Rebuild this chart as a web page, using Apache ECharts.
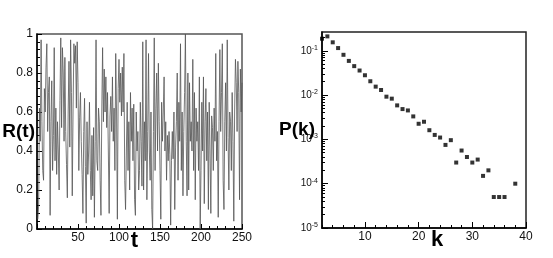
<!DOCTYPE html>
<html><head><meta charset="utf-8">
<script src="https://cdn.jsdelivr.net/npm/echarts@6/dist/echarts.min.js"></script>
<style>html,body{margin:0;padding:0;background:#fff}#c{width:553px;height:258px}</style>
</head><body><div id="c"></div>
<script>
// Left panel: R(t) time series, t = 1..250
const rValues = [
0.05,0.12,0.62,0.45,0.97,0.55,0.30,0.25,0.72,0.60,
0.83,0.95,0.50,0.70,0.78,0.07,0.55,0.76,0.30,0.48,
0.93,0.35,0.62,0.28,0.55,0.40,0.20,0.66,0.98,0.52,
0.93,0.80,0.45,0.88,0.50,0.33,0.16,0.60,0.86,0.42,
0.97,0.70,0.17,0.62,0.95,0.85,0.94,0.62,0.96,0.75,
0.30,0.57,0.70,0.45,0.28,0.08,0.50,0.67,0.32,0.03,
0.55,0.28,0.40,0.65,0.30,0.15,0.48,0.17,0.52,0.06,
0.45,0.97,0.35,0.30,0.62,0.55,0.25,0.07,0.60,0.93,
0.55,0.82,0.60,0.78,0.52,0.70,0.40,0.08,0.58,0.68,
0.50,0.78,0.45,0.62,0.30,0.90,0.60,0.05,0.72,0.87,
0.65,0.80,0.58,0.83,0.60,0.90,0.25,0.10,0.40,0.65,
0.30,0.55,0.20,0.70,0.45,0.62,0.35,0.64,0.15,0.07,
0.60,0.40,0.50,0.20,0.30,0.65,0.45,0.22,0.96,0.20,
0.55,0.35,0.97,0.15,0.50,0.90,0.40,0.25,0.60,0.10,
0.00,0.50,0.98,0.30,0.62,0.80,0.40,0.85,0.55,0.30,
0.05,0.65,0.45,0.60,0.78,0.40,0.55,0.25,0.48,0.35,
0.50,0.38,0.02,0.35,0.50,0.36,0.60,0.10,0.42,0.55,
0.80,0.25,0.65,0.45,0.95,0.30,0.60,0.17,0.50,0.70,
1.00,0.45,0.17,0.80,0.20,0.75,0.45,0.55,0.40,0.87,
0.30,0.70,0.15,0.62,0.45,0.55,0.30,0.78,0.00,0.30,
0.65,0.40,0.78,0.13,0.55,0.72,0.35,0.60,0.10,0.65,
0.40,0.08,0.58,0.52,0.30,0.62,0.45,0.90,0.35,0.50,
0.06,0.55,0.92,0.50,0.70,0.95,0.25,0.10,0.55,0.75,
0.40,0.97,0.47,0.20,0.60,0.55,0.30,0.70,0.45,0.04,
0.60,0.87,0.75,0.50,0.86,0.70,0.15,0.82,0.60,0.75
];
const tValues = rValues.map((_, i) => i + 1);

// Right panel: degree distribution P(k)
const kValues = [2,3,4,5,6,7,8,9,10,11,12,13,14,15,16,17,18,19,20,21,22,23,24,25,26,27,28,29,30,31,32,33,34,35,36,38];
const pValues = [0.187,0.211,0.155,0.115,0.081,0.059,0.045,0.0358,0.028,0.0205,0.0155,0.013,0.0092,0.0083,0.00585,0.00483,0.0045,0.0033,0.00225,0.0025,0.00161,0.00126,0.0011,0.00075,0.00096,0.0003,0.00056,0.0004,0.0003,0.00035,0.00015,0.0002,0.00005,0.00005,0.00005,0.0001];

const leftXTicks = [0, 50, 100, 150, 200, 250];
const leftYTicks = [0, 0.2, 0.4, 0.6, 0.8, 1];
const rightXTickLabels = [10, 20, 30, 40];
const rightYDecades = [1e-5, 1e-4, 1e-3, 1e-2, 1e-1];

const FONT = 'Liberation Sans, Arial, sans-serif';
const pMax = 0.265, pMin = 1e-5;
const minorLog = [];
rightYDecades.forEach(d => { for (let m = 2; m <= 9; m++) { const v = m * d; if (v <= pMax) minorLog.push(v); } });

const chart = echarts.init(document.getElementById('c'));
chart.setOption({
  animation: false,
  grid: [
    {left: 37, right: 311, top: 34, bottom: 29, show: true, borderColor: '#555', borderWidth: 1.5, outerBoundsMode: 'none', containLabel: false},
    {left: 322, right: 27, top: 32, bottom: 30, show: true, borderColor: '#222', borderWidth: 1.5, outerBoundsMode: 'none', containLabel: false}
  ],
  xAxis: [
    {gridIndex: 0, type: 'value', min: leftXTicks[0], max: leftXTicks[leftXTicks.length-1], interval: 50,
     axisLine: {show: true, lineStyle: {color: '#000', width: 1.5}},
     axisTick: {inside: true, length: 5, lineStyle: {color: '#000'}},
     minorTick: {show: true, splitNumber: 5, length: 3, lineStyle: {color: '#000'}},
     splitLine: {show: false},
     axisLabel: {showMinLabel: false, fontSize: 12, color: '#111', fontFamily: FONT, margin: 3},
     name: 't', nameLocation: 'middle', nameGap: 1, nameMoveOverlap: false,
     nameTextStyle: {fontSize: 22, fontWeight: 'bold', color: '#000', fontFamily: FONT, verticalAlign: 'top', padding: [0, 10, 0, 0]}},
    {gridIndex: 1, type: 'value', min: 2, max: 40, interval: 2,
     axisLine: {show: true, lineStyle: {color: '#000', width: 1.5}},
     axisTick: {inside: true, length: 3, lineStyle: {color: '#000'}},
     splitLine: {show: false},
     axisLabel: {fontSize: 12, color: '#111', fontFamily: FONT, margin: 3,
       formatter: v => rightXTickLabels.includes(v) ? String(v) : ''},
     name: 'k', nameLocation: 'middle', nameGap: 1, nameMoveOverlap: false,
     nameTextStyle: {fontSize: 22, fontWeight: 'bold', color: '#000', fontFamily: FONT, verticalAlign: 'top', padding: [0, 0, 0, 26]}},
    {gridIndex: 1, type: 'value', min: 2, max: 40, position: 'bottom',
     axisLine: {show: false}, splitLine: {show: false}, axisLabel: {show: false},
     axisTick: {inside: true, length: 6, customValues: rightXTickLabels, lineStyle: {color: '#000'}}}
  ],
  yAxis: [
    {gridIndex: 0, type: 'value', min: 0, max: 1, interval: 0.2,
     axisLine: {show: true, lineStyle: {color: '#000', width: 1.5}},
     axisTick: {inside: true, length: 5, lineStyle: {color: '#000'}},
     minorTick: {show: true, splitNumber: 5, length: 3, lineStyle: {color: '#000'}},
     splitLine: {show: false},
     axisLabel: {fontSize: 12, color: '#111', fontFamily: FONT, margin: 4},
     name: 'R(t)', nameLocation: 'middle', nameGap: 2, nameRotate: 0, nameMoveOverlap: false,
     nameTextStyle: {fontSize: 19, fontWeight: 'bold', color: '#000', fontFamily: FONT}},
    {gridIndex: 1, type: 'log', min: pMin, max: pMax, logBase: 10,
     axisLine: {show: true, lineStyle: {color: '#000', width: 1.5}},
     axisTick: {inside: true, length: 6, customValues: rightYDecades, lineStyle: {color: '#000'}},
     splitLine: {show: false},
     axisLabel: {margin: 4, customValues: rightYDecades, color: '#111', fontFamily: FONT,
       formatter: v => '{b|10}{s|' + Math.round(Math.log10(v)) + '}',
       rich: {b: {fontSize: 10, fontFamily: FONT, color: '#111'}, s: {fontSize: 7, fontFamily: FONT, color: '#111', padding: [0, 0, 6, 0]}}},
     name: 'P(k)', nameLocation: 'middle', nameGap: 7, nameRotate: 0, nameMoveOverlap: false,
     nameTextStyle: {fontSize: 19, fontWeight: 'bold', color: '#000', fontFamily: FONT}},
    {gridIndex: 1, type: 'log', min: pMin, max: pMax, logBase: 10, position: 'left',
     axisLine: {show: false}, splitLine: {show: false}, axisLabel: {show: false},
     axisTick: {inside: true, length: 3, customValues: minorLog, lineStyle: {color: '#000'}}}
  ],
  series: [
    {type: 'line', xAxisIndex: 0, yAxisIndex: 0, data: tValues.map((t, i) => [t, rValues[i]]),
     symbol: 'none', lineStyle: {color: '#555', width: 0.8}},
    {type: 'scatter', xAxisIndex: 1, yAxisIndex: 1, data: kValues.map((k, i) => [k, pValues[i]]),
     symbol: 'rect', symbolSize: 4, itemStyle: {color: '#000'}}
  ]
});
</script></body></html>
